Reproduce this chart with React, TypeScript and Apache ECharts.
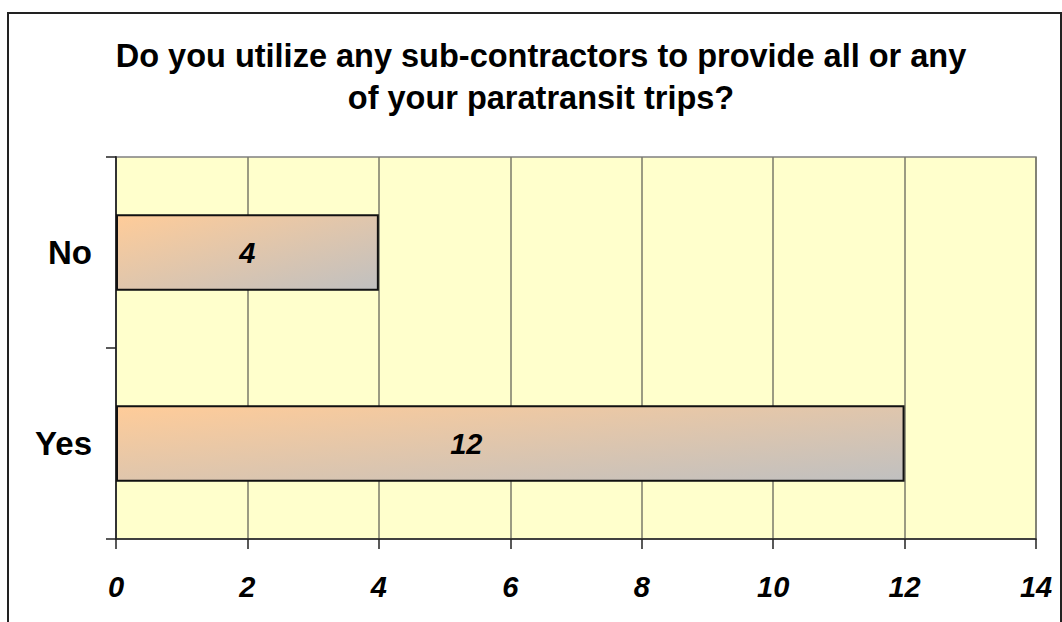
import React, { useEffect, useRef } from "react";
import * as echarts from "echarts";

const titleLines = [
  "Do you utilize any sub-contractors to provide all or any",
  "of your paratransit trips?",
];
const categories = ["Yes", "No"];
const values = [12, 4];
const xMin = 0;
const xMax = 14;
const xInterval = 2;

const FONT = "'Liberation Sans', Arial, sans-serif";

const GRID = { left: 116, right: 26, top: 157, bottom: 83 };
const W = 1062;
const H = 622;

const labelOffsets: Record<string, number[]> = { Yes: [-44, 0], No: [0, 0] };

export default function App() {
  const ref = useRef<HTMLDivElement>(null);
  useEffect(() => {
    if (!ref.current) return;
    const chart = echarts.init(ref.current, undefined, { renderer: "svg" });
    chart.setOption({
      animation: false,
      backgroundColor: "#ffffff",
      graphic: [
        {
          type: "rect",
          shape: { x: 8, y: 13, width: 1053, height: 660 },
          style: { fill: "none", stroke: "#222", lineWidth: 2 },
          silent: true,
          z: 100,
        },
        {
          type: "text",
          x: 541,
          y: 35,
          style: {
            text: titleLines.join("\n"),
            fontFamily: FONT,
            fontSize: 32.5,
            fontWeight: "bold",
            lineHeight: 42,
            fill: "#000",
            align: "center",
            verticalAlign: "top",
          },
        },
      ],
      grid: {
        left: GRID.left,
        right: GRID.right,
        top: GRID.top,
        bottom: GRID.bottom,
        show: true,
        backgroundColor: "#FFFFCC",
        borderColor: "#808080",
        borderWidth: 1.5,
      },
      xAxis: {
        type: "value",
        min: xMin,
        max: xMax,
        interval: xInterval,
        axisLine: { show: true, lineStyle: { color: "#222", width: 1.5 } },
        axisTick: { show: true, length: 10, lineStyle: { color: "#222", width: 1.5 } },
        splitLine: { show: true, lineStyle: { color: "#7a7a6a", width: 1.5 } },
        axisLabel: {
          fontFamily: FONT,
          fontSize: 29,
          fontWeight: "bold",
          fontStyle: "italic",
          color: "#000",
          margin: 33,
        },
      },
      yAxis: {
        type: "category",
        data: categories,
        axisLine: { show: true, lineStyle: { color: "#333", width: 2 } },
        axisTick: { show: true, length: 10, lineStyle: { color: "#222", width: 1.5 } },
        axisLabel: {
          fontFamily: FONT,
          fontSize: 33,
          fontWeight: "bold",
          color: "#000",
          margin: 24,
        },
      },
      series: [
        {
          type: "bar",
          data: values.map((v, i) => ({
            value: v,
            label: { offset: labelOffsets[categories[i]] },
          })),
          barWidth: "40%",
          itemStyle: {
            color: new echarts.graphic.LinearGradient(0, 0, 1, 1, [
              { offset: 0, color: "#FFCC99" },
              { offset: 1, color: "#C0C0C0" },
            ]),
            borderColor: "#111",
            borderWidth: 2,
          },
          label: {
            show: true,
            position: "inside",
            fontFamily: FONT,
            fontSize: 29,
            fontWeight: "bold",
            fontStyle: "italic",
            color: "#000",
          },
        },
      ],
    });
    return () => chart.dispose();
  }, []);
  return (
    <div
      ref={ref}
      style={{ position: "absolute", left: 0, top: 0, width: W, height: H }}
    />
  );
}
